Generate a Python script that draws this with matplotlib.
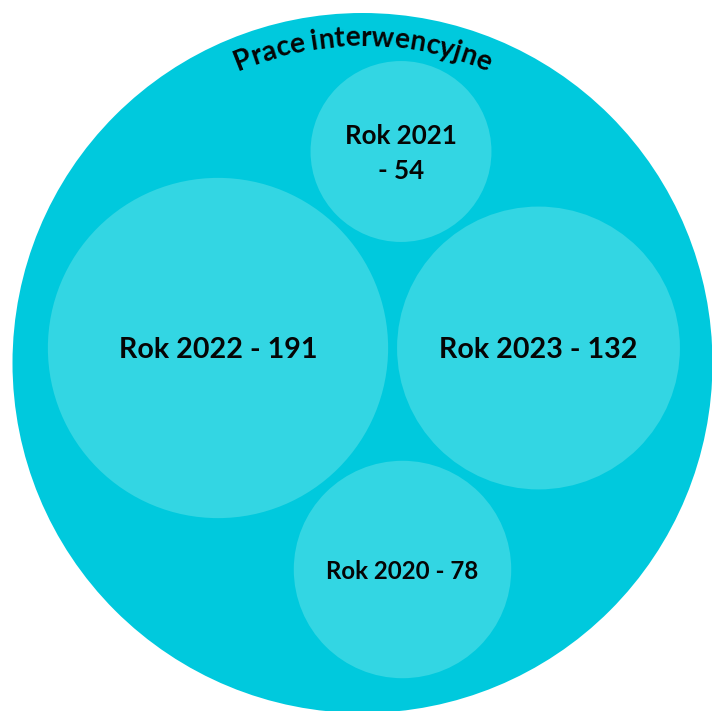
import numpy as np
import matplotlib.pyplot as plt
from matplotlib.patches import Circle
from matplotlib.font_manager import FontProperties

# dane
group_name = "Prace interwencyjne"
years = [2022, 2023, 2020, 2021]
values = [191, 132, 78, 54]
labels = ["Rok 2022 - 191", "Rok 2023 - 132", "Rok 2020 - 78", "Rok 2021\n- 54"]

# uklad (w pikselach)
centers_x = [218, 538.5, 402.5, 401]
centers_y = [348, 348, 569.5, 151.5]
label_sizes = [20.6, 20.6, 17.3, 18.6]
outer_cx, outer_cy, outer_r = 362.5, 363, 350
px_per_sqrt = 12.31

outer_color = '#00C9DD'
inner_color = '#33D6E3'
text_color = '#050505'

plt.rcParams['font.family'] = ['Lato', 'DejaVu Sans']

fig = plt.figure(figsize=(7.12, 7.11), dpi=100)
ax = fig.add_axes([0, 0, 1, 1])
ax.set_xlim(0, 712)
ax.set_ylim(711, 0)
ax.set_aspect('equal')
ax.axis('off')

ax.add_patch(Circle((outer_cx, outer_cy), outer_r, color=outer_color, lw=0))

for i in range(len(values)):
    r = px_per_sqrt * np.sqrt(values[i])
    ax.add_patch(Circle((centers_x[i], centers_y[i]), r, color=inner_color, lw=0))
    # lekkie przesuniecie w dol, zeby tekst siedzial optycznie na srodku
    ax.text(centers_x[i], centers_y[i] + 2, labels[i], ha='center', va='center',
            fontsize=label_sizes[i], fontweight='bold', color=text_color,
            multialignment='center', linespacing=1.55)

# tytul wygiety po luku
fp = FontProperties(family=['Lato', 'DejaVu Sans'], weight='bold', size=20.2)
renderer = fig.canvas.get_renderer()

def text_w(s):
    w, h, d = renderer.get_text_width_height_descent(s, fp, ismath=False)
    return w

text_r = 317
total = text_w(group_name)
for i, ch in enumerate(group_name):
    if ch == ' ':
        continue
    wc = text_w(ch)
    start = text_w(group_name[:i + 1]) - wc
    s = start + wc / 2 - total / 2
    phi = s / text_r
    x = outer_cx + text_r * np.sin(phi)
    y = outer_cy - text_r * np.cos(phi)
    ax.text(x, y, ch, fontproperties=fp, ha='center', va='baseline',
            rotation=-np.degrees(phi), rotation_mode='anchor', color=text_color)

fig.savefig('out.png', dpi=100)
